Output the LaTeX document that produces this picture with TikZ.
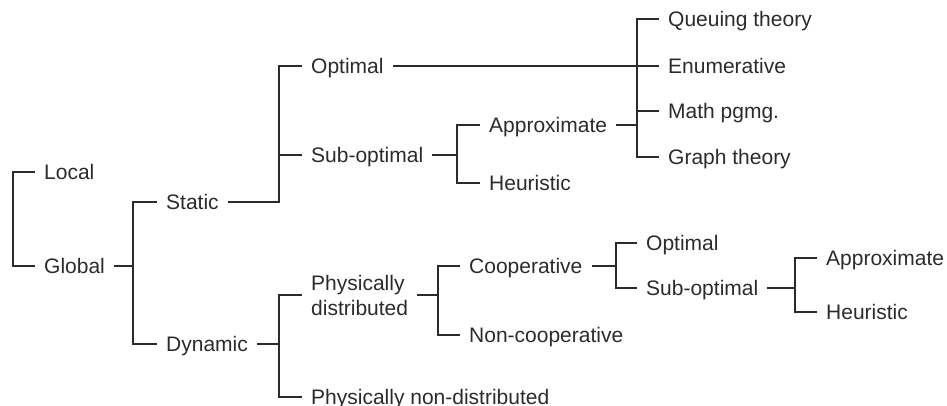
\documentclass[tikz,border=0pt]{standalone}
\usepackage{fontspec}
\setmainfont{Liberation Sans}
\definecolor{ink}{HTML}{2B2B2B}
\begin{document}
\begin{tikzpicture}[x=1pt,y=-1pt,
  lbl/.style={anchor=west, inner xsep=9pt, inner ysep=0pt, text height=15pt, text depth=0pt,
    font=\fontsize{21}{25}\selectfont, text=ink},
  lbl2/.style={anchor=west, inner xsep=9pt, inner ysep=0pt, align=left,
    font=\fontsize{21}{25}\selectfont, text=ink},
  conn/.style={draw=ink, line width=1.3pt, line cap=butt}]
\useasboundingbox (0,0) rectangle (947,406);

% nodes
\node[lbl] (local) at (35,172) {Local};
\node[lbl] (global) at (35,266) {Global};
\node[lbl] (static) at (157,202) {Static};
\node[lbl] (dynamic) at (157,344) {Dynamic};
\node[lbl] (opt) at (302,66) {Optimal};
\node[lbl] (subopt) at (302,155) {Sub-optimal};
\node[lbl2] (pdist) at (302,295) {Physically\\distributed};
\node[lbl] (pnon) at (302,397) {Physically non-distributed};
\node[lbl] (approx) at (480,125) {Approximate};
\node[lbl] (heur) at (480,183) {Heuristic};
\node[lbl] (queue) at (659,19) {Queuing theory};
\node[lbl] (enum) at (659,66) {Enumerative};
\node[lbl] (math) at (659,111) {Math pgmg.};
\node[lbl] (graph) at (659,157) {Graph theory};
\node[lbl] (coop) at (460,266) {Cooperative};
\node[lbl] (noncoop) at (460,335) {Non-cooperative};
\node[lbl] (opt2) at (637,243) {Optimal};
\node[lbl] (sub2) at (637,288) {Sub-optimal};
\node[lbl] (approx2) at (817,258) {Approximate};
\node[lbl] (heur2) at (817,312) {Heuristic};

% junction x positions
\coordinate (j0) at (13,0);
\coordinate (j1) at (133,0);
\coordinate (j2) at (279,0);
\coordinate (j3) at (457,0);
\coordinate (j4) at (637,0);
\coordinate (j5) at (438,0);
\coordinate (j6) at (616,0);
\coordinate (j7) at (795,0);

% root bracket
\draw[conn] (local.west) -| (j0 |- global.west) -- (global.west);

% Global -> Static / Dynamic
\draw[conn] (global.east) -- (global.east -| j1);
\draw[conn] (static.west) -| (j1 |- dynamic.west) -- (dynamic.west);

% Static -> Optimal / Sub-optimal
\draw[conn] (static.east) -| (j2 |- opt.west) -- (opt.west);
\draw[conn] (subopt.west -| j2) -- (subopt.west);

% Dynamic -> Physically distributed / non-distributed
\draw[conn] (dynamic.east) -- (dynamic.east -| j2);
\draw[conn] (pdist.west) -| (j2 |- pnon.west) -- (pnon.west);

% Sub-optimal -> Approximate / Heuristic
\draw[conn] (subopt.east) -- (subopt.east -| j3);
\draw[conn] (approx.west) -| (j3 |- heur.west) -- (heur.west);

% Optimal and Approximate -> methods
\draw[conn] (opt.east) -- (opt.east -| j4);
\draw[conn] (approx.east) -- (approx.east -| j4);
\draw[conn] (queue.west) -| (j4 |- graph.west) -- (graph.west);
\draw[conn] (enum.west -| j4) -- (enum.west);
\draw[conn] (math.west -| j4) -- (math.west);

% Physically distributed -> Cooperative / Non-cooperative
\draw[conn] (pdist.east) -- (pdist.east -| j5);
\draw[conn] (coop.west) -| (j5 |- noncoop.west) -- (noncoop.west);

% Cooperative -> Optimal / Sub-optimal
\draw[conn] (coop.east) -- (coop.east -| j6);
\draw[conn] (opt2.west) -| (j6 |- sub2.west) -- (sub2.west);

% Sub-optimal -> Approximate / Heuristic
\draw[conn] (sub2.east) -- (sub2.east -| j7);
\draw[conn] (approx2.west) -| (j7 |- heur2.west) -- (heur2.west);
\end{tikzpicture}
\end{document}
